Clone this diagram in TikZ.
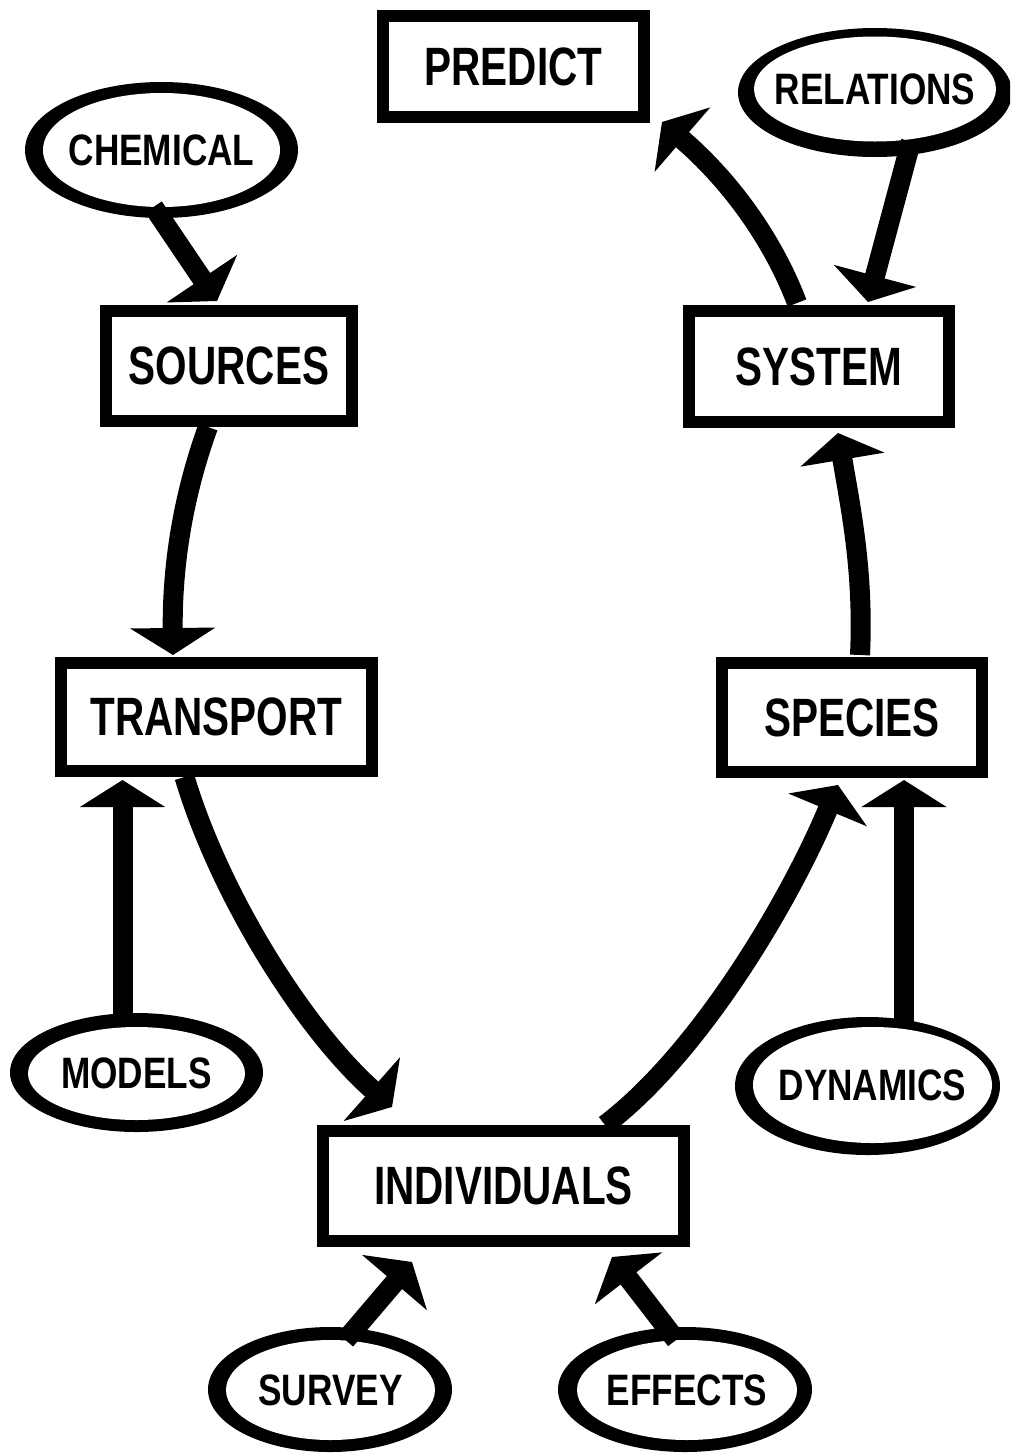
\documentclass[tikz,border=0pt]{standalone}
\usepackage{fontspec}
\usetikzlibrary{arrows.meta,shapes.geometric}
\newfontfamily\stagefam{Liberation Sans}[FakeStretch=0.75]
\newfontfamily\ovalfam{Liberation Sans}[FakeStretch=0.8]

\begin{document}
\begin{tikzpicture}[x=1pt,y=-1pt,
  stage/.style={draw, line width=12pt, fill=white, inner sep=0pt,
    font=\stagefam\bfseries\fontsize{54}{60}\selectfont},
  oval/.style={ellipse, fill=white, inner sep=0pt, outer sep=0pt,
    font=\ovalfam\bfseries\fontsize{44}{50}\selectfont},
  flow/.style={line width=20pt, -{Triangle[length=27pt,width=84pt]}},
]
% page
\fill[white] (0,0) rectangle (1010,1454);
\path[use as bounding box] (0,0) rectangle (1010,1454);
\clip (0,0) rectangle (1010,1454);

% heavy oval rings
\fill (161.5,150) ellipse [x radius=136.5, y radius=68];
\fill (875,92.5) ellipse [x radius=137, y radius=64.5];
\fill (136.5,1072.5) ellipse [x radius=126.5, y radius=59.5];
\fill (867.5,1086) ellipse [x radius=132.5, y radius=69];
\fill (330,1389.5) ellipse [x radius=122, y radius=62.5];
\fill (685,1389.5) ellipse [x radius=127, y radius=62.5];

% oval labels (zero-width text so the ellipse keeps its set size)
\node[oval, minimum width=237pt, minimum height=114pt] (chem) at (161.5,150) {\makebox[0pt]{CHEMICAL}};
\node[oval, minimum width=242pt, minimum height=105pt] (relations) at (875,89) {\makebox[0pt]{RELATIONS}};
\node[oval, minimum width=217pt, minimum height=93pt] (models) at (136.5,1073.5) {\makebox[0pt]{MODELS}};
\node[oval, minimum width=239pt, minimum height=116pt] (dynamics) at (872.5,1085) {\makebox[0pt]{DYNAMICS}};
\node[oval, minimum width=209pt, minimum height=100pt] (survey) at (330.5,1390) {\makebox[0pt]{SURVEY}};
\node[oval, minimum width=220pt, minimum height=100pt] (effects) at (687,1390) {\makebox[0pt]{EFFECTS}};

% stage boxes
\node[stage, minimum width=261pt, minimum height=101pt] (predict) at (513.5,66.5) {PREDICT};
\node[stage, minimum width=246pt, minimum height=110pt] (sources) at (229,366) {SOURCES};
\node[stage, minimum width=260pt, minimum height=111pt] (system) at (819,366.5) {SYSTEM};
\node[stage, minimum width=311pt, minimum height=108pt] (transport) at (216.5,717) {TRANSPORT};
\node[stage, minimum width=260pt, minimum height=109pt] (species) at (852,717.5) {SPECIES};
\node[stage, minimum width=361pt, minimum height=110pt] (indiv) at (503.5,1186) {INDIVIDUALS};

% flows
\draw[flow] ([xshift=-8pt]chem.south) -- ([xshift=-12pt,yshift=4pt]sources.north);
\draw[flow] ([xshift=-21pt]sources.south)
  .. controls +(-23,63) and +(-1,-95) .. ([xshift=-43.5pt,yshift=2pt]transport.north);
\draw[flow] ([xshift=-14pt]models.north) -- ([xshift=-94pt,yshift=-3pt]transport.south);
\draw[flow] ([xshift=-32pt]transport.south)
  .. controls +(36,120) and +(-87,-77) .. ([xshift=-111.5pt,yshift=18pt]indiv.north);
\draw[flow] ([xshift=101.5pt]indiv.north)
  .. controls +(95,-72) and +(-48,115) .. ([xshift=-14pt,yshift=-7pt]species.south);
\draw[flow] ([xshift=31.5pt]dynamics.north) -- ([xshift=52pt,yshift=-2pt]species.south);
\draw[flow] ([xshift=8pt,yshift=2pt]species.north)
  .. controls +(4,-85) and +(12,72) .. ([xshift=19pt,yshift=-5pt]system.south);
\draw[flow] ([xshift=-22pt,yshift=2pt]system.north)
  .. controls +(-22,-58) and +(73,63) .. ([xshift=12pt,yshift=1pt]predict.south east);
\draw[flow] ([xshift=36pt]relations.south) -- ([xshift=49pt,yshift=3pt]system.north);
\draw[flow] ([xshift=15pt]survey.north) -- ([xshift=-91.5pt,yshift=-15pt]indiv.south);
\draw[flow] ([xshift=-11pt]effects.north) -- ([xshift=108.5pt,yshift=-10pt]indiv.south);
\end{tikzpicture}
\end{document}
